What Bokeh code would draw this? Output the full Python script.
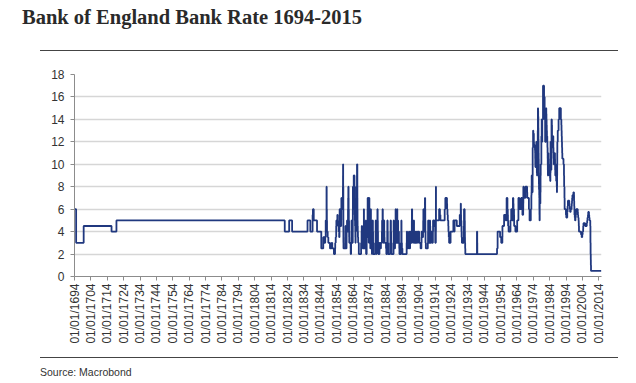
from bokeh.plotting import figure
from bokeh.layouts import column
from bokeh.models import Range1d, FixedTicker, Div
from bokeh.embed import file_html
from bokeh.resources import INLINE

# ---------------- data (change points: year, rate %) ----------------
early = [(1694.0, 6), (1695.0, 3), (1699.6, 4.5), (1716.6, 4), (1719.6, 5),
         (1822.3, 4), (1825.0, 5), (1826.8, 4), (1836.2, 5), (1837.9, 4),
         (1839.3, 5.5), (1839.5, 6), (1840.0, 5), (1842.0, 4)]

mid_1800s = [(1844.6, 2.5), (1845.8, 3.5), (1846.6, 3), (1847.0, 3.5), (1847.3, 5),
             (1847.8, 8), (1847.9, 6), (1848.0, 5), (1848.1, 4), (1848.5, 3.5),
             (1848.9, 3), (1849.9, 2.5), (1850.9, 3), (1851.3, 2.5), (1852.3, 2),
             (1853.0, 2.5), (1853.1, 3), (1853.4, 3.5), (1853.7, 4.5), (1853.8, 5),
             (1854.4, 5.5), (1854.6, 5), (1854.8, 4.5), (1855.2, 4), (1855.5, 3.5),
             (1855.7, 4.5), (1855.75, 5), (1855.8, 6), (1856.4, 5), (1856.5, 4.5),
             (1856.75, 5), (1856.8, 6), (1856.85, 7), (1857.0, 6.5), (1857.1, 6),
             (1857.3, 6.5), (1857.75, 7), (1857.8, 8), (1857.85, 9), (1857.88, 10),
             (1857.95, 8), (1858.05, 6), (1858.07, 5), (1858.08, 4), (1858.1, 3),
             (1858.15, 2.5), (1859.3, 3.5), (1859.35, 4.5), (1859.5, 3.5), (1859.55, 3),
             (1859.6, 2.5), (1860.0, 3), (1860.05, 4), (1860.2, 4.5), (1860.3, 5),
             (1860.4, 4.5), (1860.45, 4), (1860.85, 4.5), (1860.87, 5), (1860.9, 6),
             (1861.0, 7), (1861.1, 8), (1861.25, 7), (1861.3, 6), (1861.4, 5),
             (1861.55, 4), (1861.6, 3.5), (1861.65, 3), (1862.5, 2.5), (1862.55, 2),
             (1862.8, 3), (1863.0, 4), (1863.05, 5), (1863.1, 4), (1863.3, 3.5),
             (1863.4, 3), (1863.8, 4), (1863.82, 5), (1863.85, 6), (1863.88, 7),
             (1863.9, 8), (1863.95, 7), (1864.0, 8), (1864.1, 7), (1864.3, 6),
             (1864.35, 7), (1864.38, 8), (1864.4, 9), (1864.45, 6), (1864.55, 7),
             (1864.6, 8), (1864.62, 9), (1864.85, 8), (1864.88, 7), (1864.9, 6),
             (1865.0, 5.5), (1865.1, 5), (1865.2, 4.5), (1865.35, 4), (1865.4, 3.5),
             (1865.45, 3), (1865.55, 4), (1865.75, 5), (1865.77, 6), (1865.8, 7),
             (1865.95, 6), (1866.0, 8), (1866.1, 7), (1866.2, 6), (1866.35, 7),
             (1866.37, 8), (1866.38, 9), (1866.4, 10), (1866.6, 8), (1866.62, 7),
             (1866.65, 6), (1866.7, 5), (1866.75, 4.5), (1866.85, 4), (1866.95, 3.5),
             (1867.1, 3), (1867.5, 2), (1868.9, 3), (1869.2, 4), (1869.3, 4.5),
             (1869.5, 3.5), (1869.6, 3), (1869.85, 2.5), (1870.5, 3.5), (1870.55, 4),
             (1870.58, 6), (1870.65, 5), (1870.7, 4), (1870.75, 3), (1870.8, 2.5),
             (1871.7, 3), (1871.75, 4), (1871.78, 5), (1871.85, 3), (1871.95, 2)]

late_1800s = [(1872.3, 3), (1872.4, 4), (1872.5, 3.5), (1872.7, 5), (1872.85, 6),
              (1872.9, 7), (1872.95, 5), (1873.05, 4), (1873.1, 3.5), (1873.2, 4),
              (1873.4, 5), (1873.45, 6), (1873.5, 7), (1873.55, 6), (1873.6, 4),
              (1873.65, 3), (1873.8, 4), (1873.85, 6), (1873.9, 7), (1873.95, 5),
              (1874.0, 3.5), (1874.1, 4), (1874.3, 3), (1874.5, 2.5), (1874.8, 6),
              (1874.9, 5), (1874.95, 4), (1875.1, 3), (1875.3, 2.5), (1875.5, 2),
              (1875.7, 3), (1875.8, 4), (1875.9, 5), (1876.1, 4), (1876.2, 3),
              (1876.3, 2), (1877.5, 3), (1877.75, 4), (1877.8, 5), (1877.95, 3),
              (1878.1, 2), (1878.3, 3), (1878.4, 5), (1878.6, 4), (1878.8, 5),
              (1878.85, 6), (1879.0, 5), (1879.1, 4), (1879.2, 3), (1879.3, 2.5),
              (1879.4, 2), (1880.1, 3), (1880.4, 2.5), (1881.0, 3), (1881.6, 4),
              (1881.7, 5), (1882.0, 6), (1882.15, 5), (1882.2, 4), (1882.3, 3),
              (1882.6, 4), (1882.7, 5), (1883.0, 4), (1883.1, 3.5), (1883.2, 3),
              (1884.1, 2.5), (1884.3, 2), (1884.8, 3), (1884.85, 4), (1884.9, 5),
              (1885.1, 4), (1885.2, 3), (1885.4, 2), (1886.6, 3), (1886.8, 4),
              (1886.9, 5), (1887.1, 4), (1887.2, 3), (1887.4, 2), (1888.7, 3),
              (1888.75, 5), (1888.9, 4), (1889.0, 3), (1889.3, 2.5), (1889.6, 3),
              (1889.7, 4), (1889.8, 5), (1889.95, 6), (1890.1, 5), (1890.2, 4),
              (1890.4, 3), (1890.6, 4), (1890.7, 5), (1890.85, 6), (1891.0, 5),
              (1891.1, 3), (1891.3, 4), (1891.4, 5), (1891.5, 4), (1891.6, 3),
              (1891.8, 4), (1892.0, 3), (1892.2, 2.5), (1892.3, 2), (1893.3, 3),
              (1893.4, 4), (1893.45, 5), (1893.55, 4), (1893.6, 3), (1893.8, 2.5),
              (1894.1, 2), (1896.7, 3), (1896.8, 4), (1897.0, 3.5), (1897.1, 3),
              (1897.3, 2.5), (1897.7, 3), (1898.1, 4), (1898.3, 3), (1898.4, 2.5),
              (1898.8, 4), (1899.0, 3.5), (1899.1, 3), (1899.8, 4), (1899.85, 5),
              (1899.9, 6)]

early_1900s = [(1900.05, 5), (1900.1, 4), (1900.3, 3.5), (1900.5, 4), (1900.6, 3),
               (1900.8, 4), (1901.0, 5), (1901.2, 4), (1901.4, 3), (1901.8, 4),
               (1902.0, 3.5), (1902.2, 3), (1902.8, 4), (1903.3, 3.5), (1903.4, 3),
               (1903.7, 4), (1904.3, 3.5), (1904.4, 3), (1905.2, 2.5), (1905.7, 3),
               (1905.8, 4), (1906.3, 3.5), (1906.7, 4), (1906.8, 5), (1906.9, 6),
               (1907.0, 5), (1907.2, 4.5), (1907.3, 4), (1907.8, 5.5), (1907.85, 7),
               (1908.0, 6), (1908.05, 5), (1908.1, 4), (1908.2, 3), (1908.4, 2.5),
               (1909.6, 3), (1909.75, 4), (1909.8, 5), (1910.0, 4), (1910.1, 3.5),
               (1910.3, 3), (1910.7, 4), (1910.8, 5), (1911.0, 4.5), (1911.1, 4),
               (1911.2, 3), (1911.7, 4), (1912.1, 3.5), (1912.3, 3), (1912.7, 4),
               (1912.8, 5), (1913.3, 4.5), (1913.8, 5), (1914.1, 4), (1914.15, 3),
               (1914.5, 4), (1914.55, 8), (1914.6, 5), (1916.5, 6), (1917.0, 5.5),
               (1917.3, 5), (1919.9, 6), (1920.3, 7), (1921.3, 6.5), (1921.4, 6),
               (1921.6, 5.5), (1921.8, 5), (1922.1, 4.5), (1922.2, 4), (1922.4, 3.5),
               (1922.6, 3), (1923.5, 4), (1925.2, 5), (1925.6, 4.5), (1925.8, 4),
               (1925.95, 5), (1927.3, 4.5), (1929.1, 5.5), (1929.7, 6.5), (1929.8, 6),
               (1929.85, 5.5), (1929.9, 5), (1930.1, 4.5), (1930.15, 4), (1930.25, 3.5),
               (1930.4, 3), (1931.5, 3.5), (1931.55, 4.5), (1931.7, 6), (1932.1, 5),
               (1932.2, 4), (1932.25, 3.5), (1932.3, 3), (1932.4, 2.5), (1932.5, 2),
               (1939.6, 4), (1939.75, 3), (1939.8, 2)]

postwar = [(1951.85, 2.5), (1952.2, 4), (1953.7, 3.5), (1954.4, 3), (1955.1, 3.5),
           (1955.15, 4.5), (1956.15, 5.5), (1957.15, 5), (1957.7, 7), (1958.2, 6),
           (1958.4, 5.5), (1958.5, 5), (1958.6, 4.5), (1958.9, 4), (1960.05, 5),
           (1960.5, 6), (1960.8, 5.5), (1960.95, 5), (1961.55, 7), (1961.8, 6.5),
           (1961.9, 6), (1962.2, 5.5), (1962.25, 5), (1962.3, 4.5), (1963.05, 4),
           (1964.15, 5), (1964.9, 7), (1965.45, 6), (1966.55, 7), (1967.05, 6.5),
           (1967.2, 6), (1967.35, 5.5), (1967.8, 6), (1967.85, 6.5), (1967.9, 8),
           (1968.2, 7.5), (1968.7, 7), (1969.15, 8), (1970.2, 7.5), (1970.3, 7),
           (1971.3, 6), (1971.7, 5), (1972.45, 6), (1972.8, 7.25), (1972.9, 7.5),
           (1972.95, 8), (1973.0, 9), (1973.05, 8.75), (1973.2, 8.5), (1973.3, 8),
           (1973.4, 7.75), (1973.5, 7.5), (1973.55, 9), (1973.6, 11.5), (1973.85, 13),
           (1974.0, 12.75), (1974.3, 12), (1974.4, 11.75), (1974.7, 11.5), (1975.0, 11.25),
           (1975.1, 11), (1975.15, 10.5), (1975.2, 10), (1975.25, 9.75), (1975.4, 10),
           (1975.55, 11), (1975.8, 12), (1976.0, 11.25), (1976.05, 10.5), (1976.15, 9.25),
           (1976.25, 9), (1976.35, 10.5), (1976.45, 11.5), (1976.7, 13), (1976.8, 15),
           (1976.9, 14.75), (1976.95, 14.25), (1977.05, 13.25), (1977.1, 12.25), (1977.15, 12),
           (1977.2, 11), (1977.25, 10.5), (1977.3, 9.25), (1977.35, 8.75), (1977.4, 8.25),
           (1977.45, 7.75), (1977.55, 8), (1977.6, 7.25), (1977.65, 7), (1977.7, 6),
           (1977.75, 5.5), (1977.8, 5), (1977.9, 7), (1978.05, 6.5), (1978.3, 7.5),
           (1978.4, 9), (1978.5, 10), (1978.9, 12.5), (1979.1, 14), (1979.2, 13),
           (1979.3, 12), (1979.45, 14), (1979.9, 17)]

modern = [(1980.55, 16), (1980.9, 14), (1981.2, 12), (1981.7, 14), (1981.8, 15),
          (1981.9, 14.5), (1982.0, 14), (1982.1, 13.5), (1982.2, 13), (1982.3, 12.5),
          (1982.5, 12), (1982.6, 11.5), (1982.7, 11), (1982.75, 10.5), (1982.8, 10),
          (1982.85, 9.5), (1982.9, 9), (1983.0, 10), (1983.1, 11), (1983.2, 10.5),
          (1983.3, 10), (1983.5, 9.5), (1983.8, 9), (1984.2, 8.75), (1984.3, 8.5),
          (1984.4, 9.25), (1984.5, 12), (1984.6, 11), (1984.7, 10.5), (1984.85, 10),
          (1984.95, 9.5), (1985.0, 10.5), (1985.05, 12), (1985.1, 14), (1985.3, 13.5),
          (1985.4, 12.5), (1985.5, 12), (1985.6, 11.5), (1986.05, 12.5), (1986.2, 11.5),
          (1986.3, 11), (1986.4, 10.5), (1986.45, 10), (1986.8, 11), (1987.2, 10.5),
          (1987.25, 10), (1987.3, 9.5), (1987.4, 9), (1987.6, 10), (1987.8, 9.5),
          (1987.9, 9), (1987.95, 8.5), (1988.1, 9), (1988.2, 8.5), (1988.3, 8),
          (1988.4, 7.5), (1988.45, 8), (1988.5, 9), (1988.55, 10), (1988.6, 11),
          (1988.65, 12), (1988.9, 13), (1989.4, 14), (1989.8, 15), (1990.8, 14),
          (1991.1, 13.5), (1991.2, 13), (1991.3, 12.5), (1991.4, 12), (1991.5, 11.5),
          (1991.6, 11), (1991.7, 10.5), (1992.4, 10), (1992.7, 9), (1992.8, 8),
          (1993.0, 7), (1993.1, 6), (1993.9, 5.5), (1994.1, 5.25), (1994.7, 5.75),
          (1994.9, 6.25), (1995.1, 6.75), (1995.95, 6.5), (1996.05, 6.25), (1996.2, 6),
          (1996.45, 5.75), (1996.8, 6), (1997.35, 6.25), (1997.45, 6.5), (1997.6, 6.75),
          (1997.7, 7), (1997.85, 7.25), (1998.45, 7.5), (1998.8, 7.25), (1998.85, 6.75),
          (1998.95, 6.25), (1999.05, 6), (1999.1, 5.5), (1999.3, 5.25), (1999.45, 5),
          (1999.7, 5.25), (1999.9, 5.5), (2000.05, 5.75), (2000.15, 6), (2001.1, 5.75),
          (2001.2, 5.5), (2001.35, 5.25), (2001.6, 5), (2001.7, 4.75), (2001.75, 4.5),
          (2001.85, 4), (2003.1, 3.75), (2003.5, 3.5), (2003.85, 3.75), (2004.1, 4),
          (2004.4, 4.25), (2004.45, 4.5), (2004.6, 4.75), (2005.6, 4.5), (2006.6, 4.75),
          (2006.85, 5), (2007.05, 5.25), (2007.35, 5.5), (2007.5, 5.75), (2007.95, 5.5),
          (2008.1, 5.25), (2008.3, 5), (2008.75, 4.5), (2008.85, 3), (2008.95, 2),
          (2009.05, 1.5), (2009.1, 1), (2009.2, 0.5), (2015.5, 0.5)]

tick_years = [1694, 1704, 1714, 1724, 1734, 1744, 1754, 1764, 1774, 1784, 1794,
              1804, 1814, 1824, 1834, 1844, 1854, 1864, 1874, 1884, 1894, 1904,
              1914, 1924, 1934, 1944, 1954, 1964, 1974, 1984, 1994, 2004, 2014]
y_ticks = [0, 2, 4, 6, 8, 10, 12, 14, 16, 18]

title_text = "Bank of England Bank Rate 1694-2015"
source_text = "Source: Macrobond"

series = early + mid_1800s + late_1800s + early_1900s + postwar + modern
years = [s[0] for s in series]
rates = [s[1] for s in series]

W = 630
LINE_COLOR = "#20387f"
TEXT_COLOR = "#333333"
RULE_COLOR = "#444444"

# ---------------- header (title + rule) ----------------
HEAD_H = 54
head_html = (
    f'<div style="position:relative;width:{W}px;height:{HEAD_H}px;">'
    f'<div style="position:absolute;left:22px;top:7px;white-space:nowrap;'
    f'font-family:\'Liberation Serif\';font-weight:bold;font-size:20.5px;line-height:20.5px;'
    f'color:#2a2a2a;">{title_text}</div>'
    f'<div style="position:absolute;left:40px;top:50px;width:578px;height:0;'
    f'border-top:1.5px solid {RULE_COLOR};"></div>'
    f'</div>')
head = Div(text=head_html, width=W, height=HEAD_H, margin=0)

# ---------------- main chart ----------------
MAIN_H = 296
p = figure(width=W, height=MAIN_H, output_backend="svg", toolbar_location=None,
           x_range=Range1d(1694, 2015.6), y_range=Range1d(0, 18),
           min_border_left=74, min_border_right=W - 601, min_border_top=20,
           min_border_bottom=74, outline_line_color=None, margin=0)
p.step(x=years, y=rates, mode="after", line_color=LINE_COLOR, line_width=1.8)

p.xaxis.ticker = FixedTicker(ticks=tick_years)
p.xaxis.major_label_overrides = {yr: "01/01/%d" % yr for yr in tick_years}
p.xaxis.major_label_orientation = 3.14159265 / 2
p.yaxis.ticker = FixedTicker(ticks=y_ticks)
for ax in (p.xaxis, p.yaxis):
    ax.axis_line_color = "#8c8c8c"
    ax.major_tick_line_color = "#8c8c8c"
    ax.major_tick_out = 4
    ax.major_tick_in = 0
    ax.minor_tick_line_color = None
    ax.major_label_text_font = "Liberation Sans"
    ax.major_label_text_color = TEXT_COLOR
p.xaxis.major_label_text_font_size = "12px"
p.yaxis.major_label_text_font_size = "12px"
p.xaxis.major_label_standoff = 3
p.yaxis.major_label_standoff = 6
p.xgrid.visible = False
p.ygrid.grid_line_color = "#d6d6d6"
p.ygrid.grid_line_width = 1.5

# ---------------- footer (rule + source) ----------------
FOOT_H = 31
foot_html = (
    f'<div style="position:relative;width:{W}px;height:{FOOT_H}px;">'
    f'<div style="position:absolute;left:40px;top:7px;width:578px;height:0;'
    f'border-top:1.5px solid {RULE_COLOR};"></div>'
    f'<div style="position:absolute;left:40px;top:17px;white-space:nowrap;'
    f'font-family:\'Liberation Sans\';font-size:10.5px;line-height:10.5px;'
    f'color:{TEXT_COLOR};">{source_text}</div>'
    f'</div>')
foot = Div(text=foot_html, width=W, height=FOOT_H, margin=0)

layout = column(head, p, foot, spacing=0)
open("out.html", "w").write(file_html(layout, INLINE))
